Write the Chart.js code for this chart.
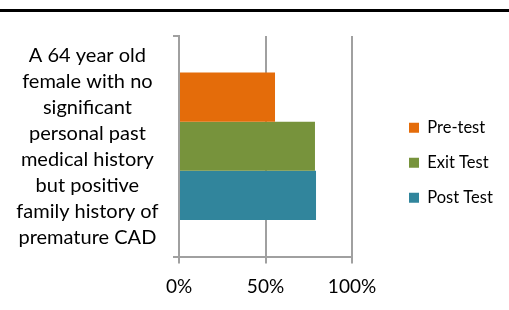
<!DOCTYPE html>
<html>
<head>
<meta charset="utf-8">
<script src="https://cdn.jsdelivr.net/npm/chart.js@4"></script>
<style>
  body { margin: 0; background: #fff; }
  #wrap { position: relative; width: 509px; height: 310px; }
  #topline { position: absolute; left: 0; top: 9px; width: 509px; height: 3px; background: #000; }
  canvas { position: absolute; left: 0; top: 0; }
</style>
</head>
<body>
<div id="wrap">
  <canvas id="myChart" width="509" height="310"></canvas>
  <div id="topline"></div>
</div>
<script>
const categories = [["A 64 year old", "female with no", "significant", "personal past",
  "medical history", "but positive", "family history of", "premature CAD"]];
const seriesNames = ['Pre-test', 'Exit Test', 'Post Test'];
const preTest = [55.5];
const exitTest = [78.6];
const postTest = [79.2];
const seriesColors = ['#E46C0A', '#77933C', '#31859C'];
const xTicks = [0, 50, 100];

const font = "Lato, 'Open Sans', sans-serif";
const axisGray = '#a0a0a0';

// move the legend over to where it sits in the picture
const legendPlace = {
    id: 'legendPlace',
    afterInit(chart) {
        const fit = chart.legend.fit;
        chart.legend.fit = function () {
            fit.call(this);
            this.width = 509 - 352;
        };
    },
    afterLayout(chart) {
        const lg = chart.legend;
        lg.left += 38.5; lg.right += 38.5;
        lg.top -= 10; lg.bottom -= 10;
    }
};

const ctx = document.getElementById('myChart').getContext('2d');
const myBarChart = new Chart(ctx, {
    type: 'bar',
    data: {
        labels: categories,
        datasets: [preTest, exitTest, postTest].map((data, i) => ({
            label: seriesNames[i],
            data: data,
            backgroundColor: seriesColors[i],
            borderWidth: 0,
            categoryPercentage: 0.668,
            barPercentage: 1
        }))
    },
    options: {
        indexAxis: 'y',
        responsive: false,
        animation: false,
        layout: { padding: { top: 36, left: 0, right: 0, bottom: 0.7 } },
        plugins: {
            tooltip: { enabled: false },
            legend: {
                position: 'right',
                labels: {
                    boxWidth: 10,
                    boxHeight: 10,
                    padding: 18.5,
                    color: '#000',
                    font: { family: font, size: 16.5 }
                }
            }
        },
        scales: {
            x: {
                min: 0,
                max: 100,
                afterBuildTicks: (scale) => { scale.ticks = xTicks.map(v => ({ value: v })); },
                ticks: {
                    callback: (v) => v + '%',
                    color: '#000',
                    padding: 11.5,
                    maxRotation: 0,
                    font: { family: font, size: 19 }
                },
                grid: { color: axisGray, lineWidth: 2, tickLength: 7 },
                border: { display: true, color: axisGray, width: 2 }
            },
            y: {
                afterFit: (scale) => {
                    scale.width = 179;
                    scale.paddingTop = 0;
                    scale.paddingBottom = 0;
                },
                ticks: {
                    crossAlign: 'center',
                    padding: 14.5,
                    color: '#000',
                    font: { family: font, size: 20, lineHeight: 1.3 }
                },
                grid: { drawOnChartArea: false, color: axisGray, lineWidth: 2, tickLength: 6 },
                border: { display: true, color: axisGray, width: 2 }
            }
        }
    },
    plugins: [legendPlace]
});
</script>
</body>
</html>
